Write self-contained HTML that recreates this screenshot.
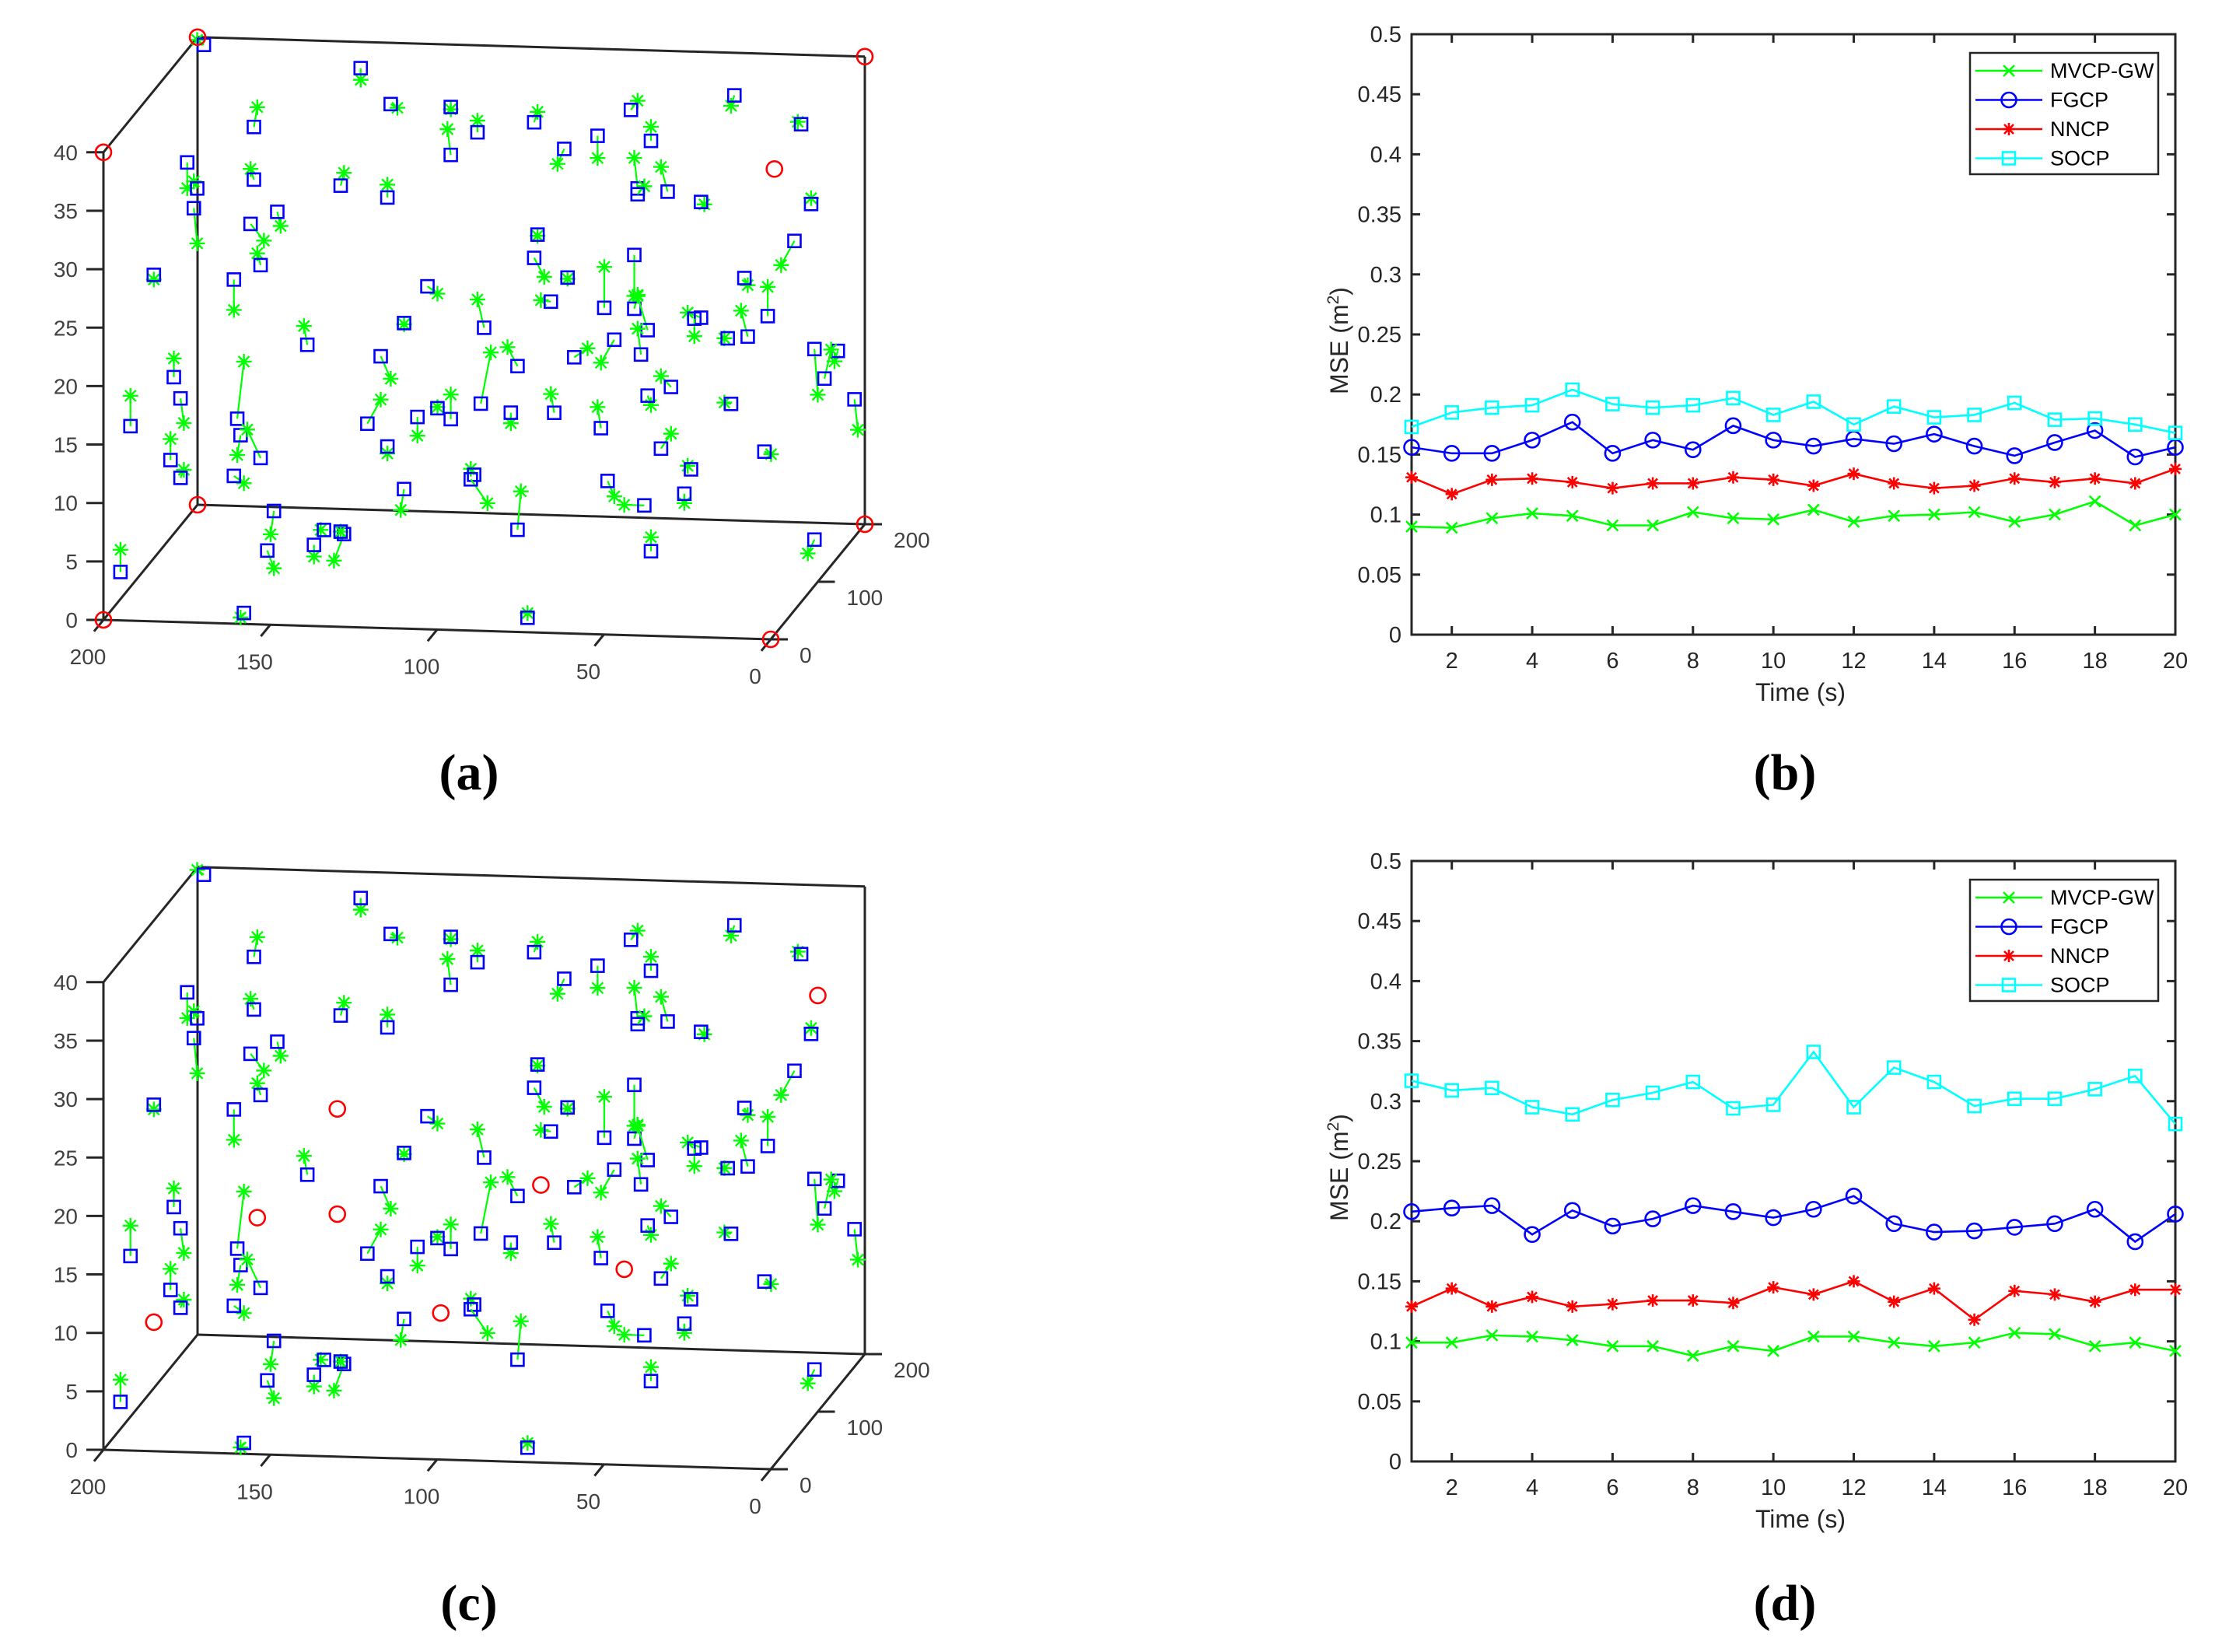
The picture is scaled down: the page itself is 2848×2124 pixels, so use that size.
<!DOCTYPE html>
<html><head><meta charset="utf-8"><style>
html,body{margin:0;padding:0;background:#fff}
svg{display:block}
text{font-family:"Liberation Sans",sans-serif}
text.pl{font-family:"Liberation Serif",serif}
</style></head><body>
<svg id="fig" xmlns="http://www.w3.org/2000/svg" width="2848" height="2124" viewBox="0 0 2848 2124">
<rect width="2848" height="2124" fill="#fff"/>
<g id="panelA"></g>
<g id="panelC"></g>
<g id="panelB"></g>
<g id="panelD"></g>
<text class="pl" x="603" y="1015" font-size="66" font-weight="bold" text-anchor="middle">(a)</text>
<text class="pl" x="2295" y="1015" font-size="66" font-weight="bold" text-anchor="middle">(b)</text>
<text class="pl" x="603" y="2083" font-size="66" font-weight="bold" text-anchor="middle">(c)</text>
<text class="pl" x="2295" y="2083" font-size="66" font-weight="bold" text-anchor="middle">(d)</text>
</svg>
<script>
// ---------- line chart data ----------
const timeCats = [1,2,3,4,5,6,7,8,9,10,11,12,13,14,15,16,17,18,19,20];
const xTickLabels = [2,4,6,8,10,12,14,16,18,20];
const yTickLabels = ["0","0.05","0.1","0.15","0.2","0.25","0.3","0.35","0.4","0.45","0.5"];
const bMVCP = [0.090,0.089,0.097,0.101,0.099,0.091,0.091,0.102,0.097,0.096,0.104,0.094,0.099,0.100,0.102,0.094,0.100,0.111,0.091,0.100];
const bFGCP = [0.156,0.151,0.151,0.162,0.177,0.151,0.162,0.154,0.174,0.162,0.157,0.163,0.159,0.167,0.157,0.149,0.160,0.170,0.148,0.156];
const bNNCP = [0.131,0.117,0.129,0.130,0.127,0.122,0.126,0.126,0.131,0.129,0.124,0.134,0.126,0.122,0.124,0.130,0.127,0.130,0.126,0.138];
const bSOCP = [0.173,0.185,0.189,0.191,0.204,0.192,0.189,0.191,0.197,0.183,0.194,0.175,0.190,0.181,0.183,0.193,0.179,0.180,0.175,0.168];
const dMVCP = [0.099,0.099,0.105,0.104,0.101,0.096,0.096,0.088,0.096,0.092,0.104,0.104,0.099,0.096,0.099,0.107,0.106,0.096,0.099,0.092];
const dFGCP = [0.208,0.211,0.213,0.189,0.209,0.196,0.202,0.213,0.208,0.203,0.210,0.221,0.198,0.191,0.192,0.195,0.198,0.210,0.183,0.206];
const dNNCP = [0.129,0.144,0.129,0.137,0.129,0.131,0.134,0.134,0.132,0.145,0.139,0.150,0.133,0.144,0.118,0.142,0.139,0.133,0.143,0.143];
const dSOCP = [0.317,0.309,0.311,0.295,0.289,0.301,0.307,0.316,0.294,0.297,0.341,0.295,0.328,0.316,0.296,0.302,0.302,0.310,0.321,0.281];
const legendNames = ["MVCP-GW","FGCP","NNCP","SOCP"];

// ---------- 3D scatter data (x, z at mid-depth) ----------
const estX = [184,137,128,110,169,102,110,85,56,50,66,76,25,5,189,186,187,169,143,129,54,54,45,35,2,170,162,167,199,175,84,85,75,55,64,80,7,22,15,55,51,53,117,100,124,153,35,37,27,21,61,73,90,101,131,193,191,206,1,-6,-2,-11,44,51,26,65,79,92,110,114,120,135,174,173,167,194,191,175,129,47,16,38,124,103,104,90,63,52,40,50,1,163,165,148,151,142,143,209,172,87];
const estZ = [44.4,42.8,39.8,39.7,37.5,37.6,35.6,38.6,39.9,37.3,37.6,36.4,41.4,39.1,34.3,32.1,30.4,33,32.7,31.8,33.2,32.7,33,32.2,32.3,29.2,30.3,25.7,24.6,24.4,29,27,25.4,27.5,22.9,23.3,29.1,25.8,22.6,22.9,21.1,19,24.3,20.9,21.1,19,22.3,22.2,20.6,20.8,20.2,18.6,17.7,14.4,18.2,15.9,14.1,11.6,19.9,19.8,17.4,15.7,16.3,15.5,15,12.6,13.8,13.7,13,13.9,13.1,12.4,12.5,11.1,9.2,8.8,7.3,7.6,10.5,11,11,9.3,6.9,8.3,7.9,3.7,8.1,6.1,7.2,2.2,3.6,4.7,1.3,3.2,1.9,2.9,3.1,-0.9,-4.1,-3.8];
const trueX = [186,137,126,110,168,102,111,84,54,50,66,78,26,6,189,187,186,170,142,129,55,52,47,34,2,166,161,168,199,175,84,82,75,55,64,83,11,21,15,54,54,54,114,102,124,154,39,37,28,23,65,69,93,98,128,193,190,206,0,-5,-4,-12,47,50,28,66,80,92,110,114,120,131,172,174,171,194,190,172,129,44,14,39,125,104,99,89,61,58,40,50,3,164,163,149,151,145,143,209,173,87];
const trueZ = [44.8,41.8,39.5,39.5,39.2,38.6,37.8,39.5,40.7,38.5,35.7,35.1,40.5,39.3,32.1,32.7,27.4,33.9,33.8,32.9,35.8,33.4,35.1,32,32.8,27.8,29.1,26.7,24.2,21.8,28.9,25.4,25.3,24,26.4,23.4,27,25.2,25.1,24.1,24,21.2,23.7,23.3,21,20.6,22.7,20.7,20.6,23,18.2,19.4,19.3,18.8,16.3,17.5,12,14.2,16,18.9,19.9,13.1,17.2,14.7,15.1,14.4,15.4,12.8,15.1,14,11.5,14.5,17.4,9.4,11.6,10.6,8,7,9.9,12.3,10.8,9.6,5.1,8.8,5.9,7,6.8,6.1,6.4,3.4,2.4,2.7,-0.2,3.2,0.9,0.6,3.1,1,-4.5,-3.4];
const anchorAX = [13];
const anchorAZ = [35.2];
const anchorCX = [0,144,168,144,83,199,113,58];
const anchorCZ = [35.6,24.7,15.2,15.7,18.7,6,7.5,11.7];
const xTicks3d = [200,150,100,50,0];
const yTicks3d = [0,100,200];
const zTicks3d = [0,5,10,15,20,25,30,35,40];

const NS = "http://www.w3.org/2000/svg";
function mk(tag, attrs, parent){const e=document.createElementNS(NS,tag);for(const k in attrs)e.setAttribute(k,attrs[k]);parent.appendChild(e);return e;}

// ---------- line charts ----------
function drawChart(g, top, series){
  const L=1815,R=2797,B=top+772;
  const xs=v=>L+(v-1)*(R-L)/19;
  const ys=v=>B-v*(772/0.5);
  const box=mk('rect',{x:L,y:top,width:R-L,height:B-top,fill:'none',stroke:'#262626','stroke-width':3},g);
  
  
  yTickLabels.forEach((t,i)=>{
    const y=ys(i*0.05);
    mk('line',{x1:L,y1:y,x2:L+11,y2:y,stroke:'#262626','stroke-width':3},g);
    mk('line',{x1:R,y1:y,x2:R-11,y2:y,stroke:'#262626','stroke-width':3},g);
    const tx=mk('text',{x:1802,y:y+10,'font-size':29,'text-anchor':'end',fill:'#262626'},g);
    tx.textContent=t;
    
    
  });
  xTickLabels.forEach(t=>{
    const x=xs(t);
    mk('line',{x1:x,y1:B,x2:x,y2:B-11,stroke:'#262626','stroke-width':3},g);
    mk('line',{x1:x,y1:top,x2:x,y2:top+11,stroke:'#262626','stroke-width':3},g);
    const tx=mk('text',{x:x,y:B+43,'font-size':29,'text-anchor':'middle',fill:'#262626'},g);
    tx.textContent=t;
    
    
  });
  const xl=mk('text',{x:2315,y:B+85,'font-size':32,'text-anchor':'middle',fill:'#262626'},g);
  xl.textContent='Time (s)';
  
  
  const yl=mk('text',{x:0,y:0,'font-size':32,'text-anchor':'middle',fill:'#262626',transform:`translate(1733,${top+394}) rotate(-90)`},g);
  yl.innerHTML='MSE (m<tspan dy="-12" font-size="21">2</tspan><tspan dy="12">)</tspan>';
  
  
  const colors=['#00ff00','#0000ff','#ff0000','#00ffff'];
  const markers=['x','o','*','s'];
  series.forEach((vals,si)=>{
    const sg=mk('g',{},g);
    
    
    const pts=vals.map((v,i)=>xs(timeCats[i])+','+ys(v)).join(' ');
    mk('polyline',{points:pts,fill:'none',stroke:colors[si],'stroke-width':2.6},sg);
    vals.forEach((v,i)=>drawMarker(sg,markers[si],xs(timeCats[i]),ys(v),colors[si]));
  });
  const lg=mk('g',{},g);
  
  
  mk('rect',{x:2533,y:top+24,width:242,height:156,fill:'#fff',stroke:'#262626','stroke-width':2.5},lg);
  legendNames.forEach((n,i)=>{
    const y=top+47+i*37.5;
    const e=mk('g',{},lg);
    
    
    mk('line',{x1:2540,y1:y,x2:2626,y2:y,stroke:colors[i],'stroke-width':2.6},e);
    drawMarker(e,markers[i],2583,y,colors[i]);
    const t=mk('text',{x:2636,y:y+9,'font-size':27,fill:'#000'},e);
    t.textContent=n;
  });
}
function drawMarker(g,m,x,y,c){
  let el;
  if(m==='x'){el=mk('path',{d:`M${x-7},${y-7}L${x+7},${y+7}M${x-7},${y+7}L${x+7},${y-7}`,stroke:c,'stroke-width':2.6,fill:'none'},g);}
  else if(m==='o'){el=mk('circle',{cx:x,cy:y,r:9.5,stroke:c,'stroke-width':2.6,fill:'none'},g);}
  else if(m==='*'){el=mk('path',{d:`M${x-8},${y}L${x+8},${y}M${x},${y-8}L${x},${y+8}M${x-6},${y-6}L${x+6},${y+6}M${x-6},${y+6}L${x+6},${y-6}`,stroke:c,'stroke-width':2.6,fill:'none'},g);}
  else {el=mk('rect',{x:x-8,y:y-8,width:16,height:16,stroke:c,'stroke-width':2.6,fill:'none'},g);}
  
  
}
drawChart(document.getElementById('panelB'),44,[bMVCP,bFGCP,bNNCP,bSOCP]);
drawChart(document.getElementById('panelD'),1107,[dMVCP,dFGCP,dNNCP,dSOCP]);

// ---------- 3D scatter ----------
function draw3d(g, dy, cornerCircles, anchorX, anchorZ){
  const P=(x,y,z)=>[133+(200-x)*4.29+y*0.605, 797+dy+(200-x)*0.125-y*0.74-z*15.03];
  const edges=[[[200,0,0],[200,0,40]],[[200,200,0],[200,200,40]],[[0,200,0],[0,200,40]],
    [[200,0,0],[0,0,0]],[[200,0,0],[200,200,0]],[[0,0,0],[0,200,0]],[[200,200,0],[0,200,0]],
    [[200,200,40],[0,200,40]],[[200,0,40],[200,200,40]]];
  const fr=mk('g',{},g);
  
  
  edges.forEach(e=>{const a=P(...e[0]),b=P(...e[1]);mk('line',{x1:a[0],y1:a[1],x2:b[0],y2:b[1],stroke:'#262626','stroke-width':3},fr);});
  zTicks3d.forEach(z=>{
    const p=P(200,0,z);
    mk('line',{x1:p[0]-22,y1:p[1],x2:p[0],y2:p[1],stroke:'#262626','stroke-width':3},g);
    const t=mk('text',{x:100,y:p[1]+10,'font-size':28,'text-anchor':'end',fill:'#404040'},g);
    t.textContent=z;
    
    
  });
  xTicks3d.forEach(x=>{
    const p=P(x,0,0),q=P(x,-20,0);
    mk('line',{x1:p[0],y1:p[1],x2:q[0],y2:q[1],stroke:'#262626','stroke-width':3},g);
    const t=mk('text',{x:p[0]-20,y:p[1]+57,'font-size':28,'text-anchor':'middle',fill:'#404040'},g);
    t.textContent=x;
    
    
  });
  yTicks3d.forEach(y=>{
    const p=P(0,y,0);
    mk('line',{x1:p[0],y1:p[1],x2:p[0]+22,y2:p[1],stroke:'#262626','stroke-width':3},g);
    const t=mk('text',{x:p[0]+37,y:p[1]+30,'font-size':28,fill:'#404040'},g);
    t.textContent=y;
    
    
  });
  const pts=mk('g',{},g);
  
  
  estX.forEach((x,i)=>{
    const s=P(x,100,estZ[i]), t=P(trueX[i],100,trueZ[i]);
    const l=mk('line',{x1:s[0],y1:s[1],x2:t[0],y2:t[1],stroke:'#00ff00','stroke-width':2.2},pts);
    
    
    const st=mk('path',{d:`M${t[0]-10},${t[1]}L${t[0]+10},${t[1]}M${t[0]},${t[1]-10}L${t[0]},${t[1]+10}M${t[0]-7},${t[1]-7}L${t[0]+7},${t[1]+7}M${t[0]-7},${t[1]+7}L${t[0]+7},${t[1]-7}`,stroke:'#00ff00','stroke-width':2.4,fill:'none'},pts);
    
    
    const sq=mk('rect',{x:s[0]-8,y:s[1]-8,width:16,height:16,stroke:'#0000ff','stroke-width':2.6,fill:'none'},pts);
    
    
  });
  const an=mk('g',{},g);
  
  
  const circ=p=>{const c=mk('circle',{cx:p[0],cy:p[1],r:10,stroke:'#ff0000','stroke-width':2.6,fill:'none'},an);};
  if(cornerCircles){[[200,0,0],[200,0,40],[200,200,0],[200,200,40],[0,200,0],[0,200,40],[0,0,0]].forEach(c=>circ(P(...c)));}
  anchorX.forEach((x,i)=>circ(P(x,100,anchorZ[i])));
}
draw3d(document.getElementById('panelA'),0,true,anchorAX,anchorAZ);
draw3d(document.getElementById('panelC'),1067,false,anchorCX,anchorCZ);
</script>
</body></html>
